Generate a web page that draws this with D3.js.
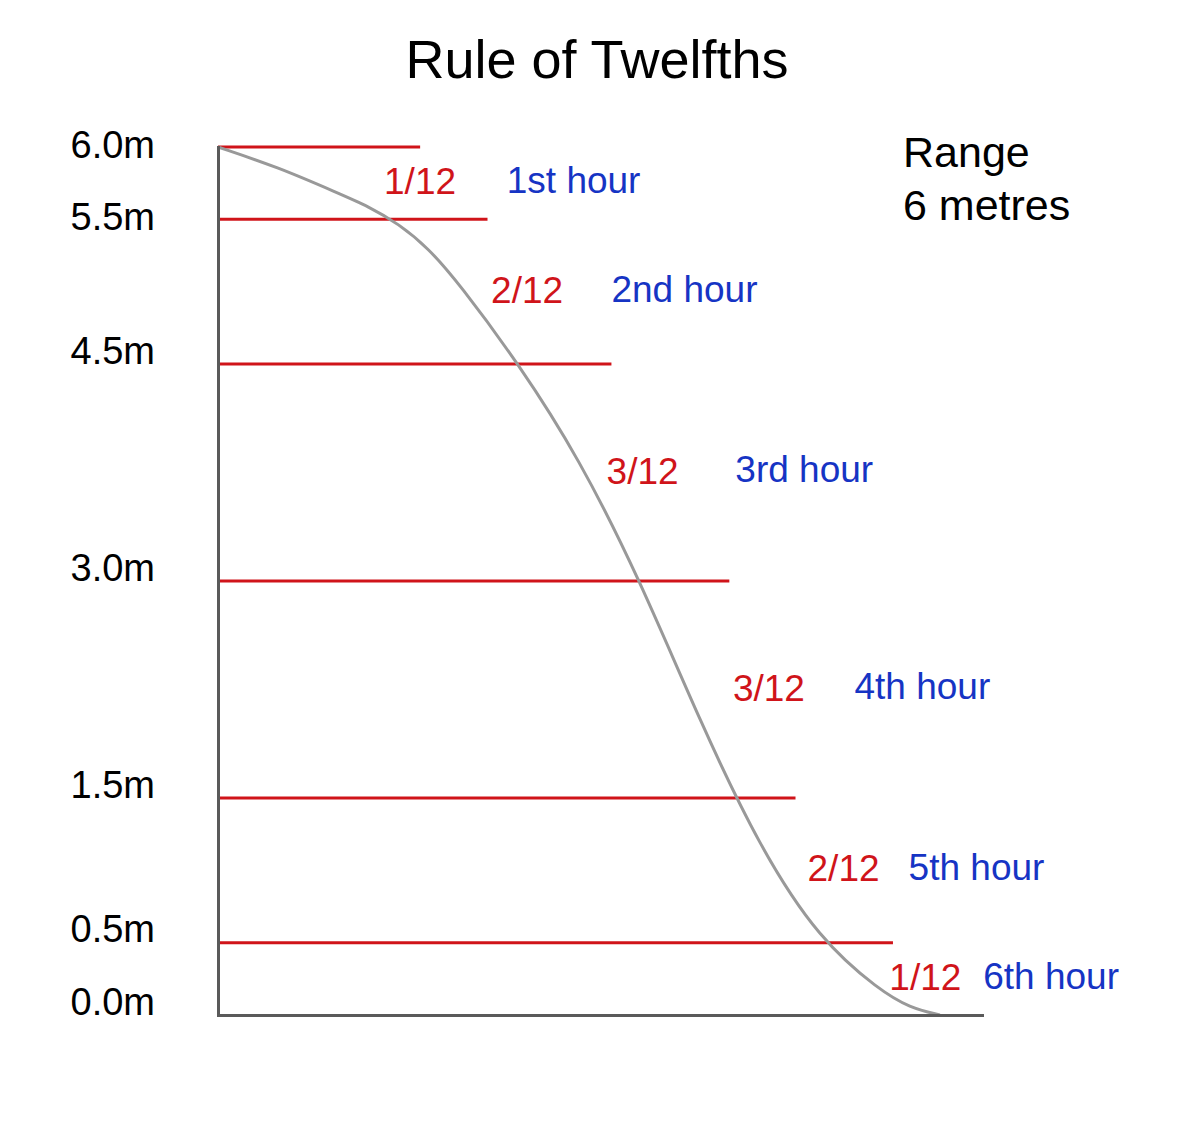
<!DOCTYPE html>
<meta charset="UTF-8">
<style>
    body { margin: 0; background: #fff; }
    svg text { font-family: "Liberation Sans", Arial, Helvetica, sans-serif; }
    .axis path { stroke: #5a5a5a; stroke-width: 3px; stroke-linecap: square; }
    .level { stroke: #d0141a; stroke-width: 3px; }
    .tide { fill: none; stroke: #999; stroke-width: 3px; }
</style>
<body>
<script src="https://d3js.org/d3.v7.min.js"></script>
<script>

// height levels (m) at the end of each hour, and where each red line stops (hours)
var levels = [6.0, 5.5, 4.5, 3.0, 1.5, 0.5, 0.0];
var levelLineEnd = [1.68, 2.24, 3.27, 4.25, 4.80, 5.61];

// falling tide curve: time (hours) and height (m)
var tideTime   = [0, 0.5, 1.0, 1.25, 1.5, 1.75, 2.0, 2.5, 3.0, 3.5, 4.0, 4.5, 5.0, 5.5, 5.75, 6.0];
var tideHeight = [6.00, 5.86, 5.68, 5.59, 5.47, 5.30, 5.06, 4.50, 3.85, 3.02, 2.04, 1.16, 0.52, 0.17, 0.05, 0.00];

// annotation text for each hour, and the time (hours) each label starts at
var fractions = ["1/12", "2/12", "3/12", "3/12", "2/12", "1/12"];
var hourNames = ["1st hour", "2nd hour", "3rd hour", "4th hour", "5th hour", "6th hour"];
var fractionAt = [1.38, 2.27, 3.23, 4.28, 4.90, 5.58];
var hourNameAt = [2.40, 3.27, 4.30, 5.29, 5.74, 6.36];

var width = 1200, height = 1143;

// set the ranges (time axis runs a little past the 6th hour)
var x = d3.scaleLinear().domain([0, 6.35]).range([218, 982]);
var y = d3.scaleLinear().domain([0, 6]).range([1015, 147]);

var svg = d3.select("body").append("svg")
    .attr("width", width)
    .attr("height", height);

// title
svg.append("text")
    .attr("x", 597)
    .attr("y", 78)
    .attr("text-anchor", "middle")
    .attr("font-size", 54)
    .attr("fill", "#000")
    .text("Rule of Twelfths");

// red level lines
svg.selectAll(".level")
    .data(levelLineEnd)
    .enter().append("line")
    .attr("class", "level")
    .attr("x1", x(0))
    .attr("x2", function(d) { return x(d); })
    .attr("y1", function(d, i) { return y(levels[i]); })
    .attr("y2", function(d, i) { return y(levels[i]); });

// tide curve
var tideData = tideTime.map(function(t, i) { return {t: t, h: tideHeight[i]}; });
var tideLine = d3.line()
    .x(function(d) { return x(d.t); })
    .y(function(d) { return y(d.h); })
    .curve(d3.curveBasis);

svg.append("path")
    .datum(tideData)
    .attr("class", "tide")
    .attr("d", tideLine);

// Y axis with the level labels
var yAxis = svg.append("g")
    .attr("class", "axis")
    .attr("transform", "translate(" + x(0) + ",0)")
    .call(d3.axisLeft(y)
        .tickValues(levels)
        .tickSize(0)
        .tickPadding(63)
        .tickFormat(function(d) { return d.toFixed(1) + "m"; }));

yAxis.attr("font-size", null).attr("font-family", null);
yAxis.selectAll("text")
    .attr("font-size", 38)
    .attr("fill", "#000")
    .attr("dy", function(d) { return d >= 5.5 ? "0.27em" : "-0.02em"; });

// X axis, plain line
svg.append("g")
    .attr("class", "axis")
    .attr("transform", "translate(0," + y(0) + ")")
    .call(d3.axisBottom(x).tickValues([]).tickSizeOuter(0));

// hour annotations, centred between the levels
function midY(i) { return y((levels[i] + levels[i + 1]) / 2); }

svg.selectAll(".frac")
    .data(fractions)
    .enter().append("text")
    .attr("class", "frac")
    .attr("x", function(d, i) { return x(fractionAt[i]); })
    .attr("y", function(d, i) { return midY(i); })
    .attr("dy", "0.3em")
    .attr("font-size", 37)
    .attr("fill", "#d0141a")
    .text(function(d) { return d; });

svg.selectAll(".hour")
    .data(hourNames)
    .enter().append("text")
    .attr("class", "hour")
    .attr("x", function(d, i) { return x(hourNameAt[i]); })
    .attr("y", function(d, i) { return midY(i); })
    .attr("dy", "0.27em")
    .attr("font-size", 37)
    .attr("fill", "#1634c4")
    .text(function(d) { return d; });

// range note
var note = svg.append("text")
    .attr("x", 903)
    .attr("y", 167)
    .attr("font-size", 43)
    .attr("fill", "#000");
note.append("tspan").attr("x", 903).text("Range");
note.append("tspan").attr("x", 903).attr("dy", 53).text("6 metres");

</script>
</body>
